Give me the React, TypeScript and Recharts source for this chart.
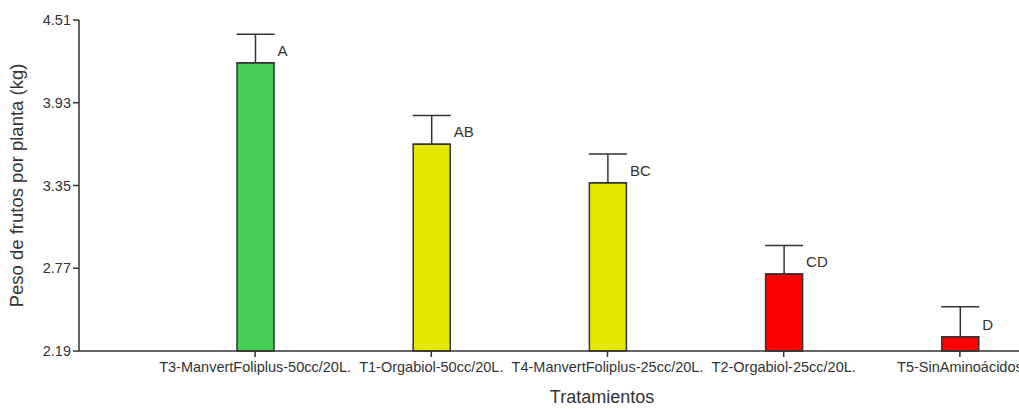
import React from "react";
import { BarChart, Bar, XAxis, YAxis, Cell, ErrorBar, LabelList, Label } from "recharts";

// Treatment names, shown on the category axis
const treatments = [
  "T3-ManvertFoliplus-50cc/20L.",
  "T1-Orgabiol-50cc/20L.",
  "T4-ManvertFoliplus-25cc/20L.",
  "T2-Orgabiol-25cc/20L.",
  "T5-SinAminoácidos",
];

// Mean fruit weight per plant (kg)
const meanWeight = [4.21, 3.64, 3.37, 2.73, 2.29];

// Upper error (kg)
const errorUp = [0.2, 0.2, 0.2, 0.2, 0.21];

// Significance groups
const groups = ["A", "AB", "BC", "CD", "D"];

// Bar fills per treatment
const fills = ["#46CD55", "#E6E600", "#E6E600", "#FF0000", "#FF0000"];

// Y axis ticks
const yTicks = [2.19, 2.77, 3.35, 3.93, 4.51];

const data = treatments.map((name, i) => ({
  name,
  value: meanWeight[i],
  err: [0, errorUp[i]],
  group: groups[i],
}));

const FONT = "'Liberation Sans', Arial, sans-serif";
const INK = "#333333";

const GroupLabel = (props: any) => {
  const { x, y, width, value } = props;
  return (
    <text
      x={Number(x) + Number(width) / 2 + 22}
      y={Number(y) - 7}
      fontSize={15}
      fontFamily={FONT}
      fill={INK}
      textAnchor="start"
    >
      {value}
    </text>
  );
};

export default function App() {
  return (
    <div
      style={{
        position: "fixed",
        left: 0,
        top: 0,
        width: 1019,
        height: 409,
        overflow: "hidden",
        background: "#fff",
      }}
    >
      <BarChart
        width={1125}
        height={409}
        data={data}
        margin={{ top: 20, right: 0, bottom: 28, left: 0 }}
      >
        <XAxis
          dataKey="name"
          interval={0}
          padding={{ left: 88, right: 77 }}
          height={30}
          tickSize={6}
          tickMargin={5}
          axisLine={{ stroke: INK, strokeWidth: 1.5 }}
          tickLine={{ stroke: INK, strokeWidth: 1.5 }}
          tick={{ fill: INK, fontSize: 14.5, fontFamily: FONT }}
        >
          <Label
            value="Tratamientos"
            position="bottom"
            offset={9}
            style={{ fill: INK, fontSize: 18, fontFamily: FONT }}
          />
        </XAxis>
        <YAxis
          width={79}
          domain={[2.19, 4.51]}
          ticks={yTicks}
          interval={0}
          tickSize={6}
          tickMargin={2}
          axisLine={{ stroke: INK, strokeWidth: 1.5 }}
          tickLine={{ stroke: INK, strokeWidth: 1.5 }}
          tick={{ fill: INK, fontSize: 14.5, fontFamily: FONT }}
          tickFormatter={(v: number) => v.toFixed(2)}
        >
          <Label
            value="Peso de frutos por planta (kg)"
            angle={-90}
            position="insideLeft"
            offset={16}
            style={{
              fill: INK,
              fontSize: 18.5,
              fontFamily: FONT,
              textAnchor: "middle",
            }}
          />
        </YAxis>
        <Bar
          dataKey="value"
          barSize={37}
          stroke={INK}
          strokeWidth={1.5}
          isAnimationActive={false}
        >
          {data.map((d, i) => (
            <Cell key={d.name} fill={fills[i]} />
          ))}
          <ErrorBar
            dataKey="err"
            width={19}
            stroke={INK}
            strokeWidth={1.5}
            direction="y"
            isAnimationActive={false}
          />
          <LabelList dataKey="group" content={<GroupLabel />} />
        </Bar>
      </BarChart>
    </div>
  );
}
